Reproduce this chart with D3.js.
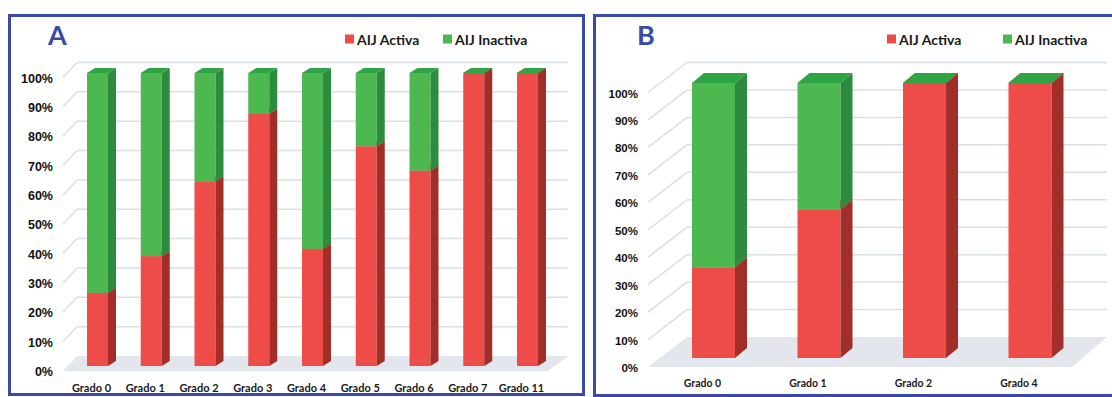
<!DOCTYPE html>
<html>
<head>
<meta charset="utf-8">
<script src="https://cdn.jsdelivr.net/npm/d3@7"></script>
<style>
  html, body { margin: 0; padding: 0; background: #ffffff; }
  svg { display: block; }
</style>
</head>
<body>
<svg id="chart" width="1112" height="397"></svg>
<script>
// Series and categories
const seriesNames = ["AIJ Activa", "AIJ Inactiva"];
const tickValues = [0, 10, 20, 30, 40, 50, 60, 70, 80, 90, 100];

const gradosA = ["Grado 0", "Grado 1", "Grado 2", "Grado 3", "Grado 4", "Grado 5", "Grado 6", "Grado 7", "Grado 11"];
const activaA = [25, 37.5, 63, 86, 40, 75, 66.7, 100, 100];
const inactivaA = [75, 62.5, 37, 14, 60, 25, 33.3, 0, 0];

const gradosB = ["Grado 0", "Grado 1", "Grado 2", "Grado 4"];
const activaB = [33, 54, 100, 100];
const inactivaB = [67, 46, 0, 0];

const colors = {
  red:   { front: "#ee4c49", side: "#a22e2a", top: "#d9413e" },
  green: { front: "#4db84f", side: "#2d8b3f", top: "#2fa445" }
};
const blue = "#3a4aa6";
const gridColor = "#d9dee8";
const floorColor = "#e3e6ec";

const svg = d3.select("#chart");

function panel(cfg) {
  const g = svg.append("g");

  // frame
  g.append("rect")
    .attr("x", cfg.frame[0]).attr("y", cfg.frame[1])
    .attr("width", cfg.frame[2]).attr("height", cfg.frame[3])
    .attr("fill", "none").attr("stroke", blue).attr("stroke-width", 3);

  // panel letter
  g.append("text")
    .attr("x", cfg.letterPos[0]).attr("y", cfg.letterPos[1])
    .attr("font-family", "Lato, 'Open Sans', sans-serif")
    .attr("font-weight", 700).attr("font-size", 27)
    .attr("fill", blue).text(cfg.letter);

  // scales: front plane of the walls, back wall, and the bars' own front plane
  const yFront = d3.scaleLinear().domain([0, 100]).range(cfg.frontRange);
  const yBack = d3.scaleLinear().domain([0, 100]).range(cfg.frontRange.map(v => v + cfg.wallDy));
  const yBar = d3.scaleLinear().domain([0, 100]).range(cfg.barRange);
  const x = d3.scaleBand().domain(cfg.categories)
    .range(cfg.bandRange)
    .paddingInner(cfg.padding).paddingOuter(cfg.padding / 2);

  const L = cfg.wallLeft, R = cfg.wallRight; // [frontX, backX]

  // floor
  g.append("polygon")
    .attr("points", [
      [L[0], yFront(0)], [R[0], yFront(0)], [R[1], yBack(0)], [L[1], yBack(0)]
    ].map(p => p.join(",")).join(" "))
    .attr("fill", floorColor);

  // back wall gridlines
  g.selectAll("line.grid").data(tickValues.filter(v => v > 0)).join("line")
    .attr("class", "grid")
    .attr("x1", L[1]).attr("x2", R[1])
    .attr("y1", d => yBack(d)).attr("y2", d => yBack(d))
    .attr("stroke", gridColor).attr("stroke-width", 1.5);

  // side wall gridlines
  g.selectAll("line.side").data(tickValues.filter(v => v > 0)).join("line")
    .attr("class", "side")
    .attr("x1", L[0]).attr("x2", L[1])
    .attr("y1", d => yFront(d)).attr("y2", d => yBack(d))
    .attr("stroke", gridColor).attr("stroke-width", 1.5);

  // y axis labels
  g.selectAll("text.ytick").data(tickValues).join("text")
    .attr("class", "ytick")
    .attr("x", cfg.yLabelX).attr("y", d => yFront(d) + cfg.yLabelDy)
    .attr("text-anchor", "end").attr("dominant-baseline", "central")
    .attr("font-family", "'Liberation Sans', Arial, sans-serif")
    .attr("font-weight", 700).attr("font-size", cfg.yFont)
    .attr("fill", "#111").text(d => d + "%");

  // stacked 3D columns
  const dx = cfg.barDepth[0], dy = cfg.barDepth[1];
  const w = x.bandwidth();
  cfg.categories.forEach((c, i) => {
    const x0 = x(c);
    const segs = [
      { lo: 0, hi: cfg.activa[i], col: colors.red },
      { lo: cfg.activa[i], hi: cfg.activa[i] + cfg.inactiva[i], col: colors.green }
    ];
    segs.forEach(s => {
      const yb = yBar(s.lo), yt = yBar(s.hi);
      const bg = g.append("g");
      bg.append("rect")
        .attr("x", x0).attr("y", yt).attr("width", w).attr("height", Math.max(0, yb - yt))
        .attr("fill", s.col.front);
      bg.append("polygon")
        .attr("points", [[x0 + w, yb], [x0 + w + dx, yb + dy], [x0 + w + dx, yt + dy], [x0 + w, yt]]
          .map(p => p.join(",")).join(" "))
        .attr("fill", s.col.side);
      bg.append("polygon")
        .attr("points", [[x0, yt], [x0 + w, yt], [x0 + w + dx, yt + dy], [x0 + dx, yt + dy]]
          .map(p => p.join(",")).join(" "))
        .attr("fill", s.col.top);
    });
  });

  // category labels
  g.selectAll("text.xtick").data(cfg.categories).join("text")
    .attr("class", "xtick")
    .attr("x", d => x(d) + w / 2 + cfg.xLabelDx).attr("y", cfg.xLabelY)
    .attr("text-anchor", "middle").attr("dominant-baseline", "central")
    .attr("font-family", "Lato, 'Open Sans', sans-serif")
    .attr("font-weight", 700).attr("font-size", cfg.xFont)
    .attr("fill", "#1a1a1a").text(d => d);

  // legend
  const lg = g.append("g");
  seriesNames.forEach((name, k) => {
    const lx = cfg.legendX[k];
    lg.append("rect")
      .attr("x", lx).attr("y", cfg.legendY - 4.5).attr("width", 9).attr("height", 9)
      .attr("fill", k === 0 ? colors.red.front : colors.green.front);
    lg.append("text")
      .attr("x", lx + 12).attr("y", cfg.legendY)
      .attr("dominant-baseline", "central")
      .attr("font-family", "Lato, 'Open Sans', sans-serif")
      .attr("font-weight", 700).attr("font-size", 14)
      .attr("fill", "#1a1a1a").text(name);
  });
}

const stepA = 53.75, barWA = 21;
panel({
  letter: "A", letterPos: [48, 45],
  frame: [9.5, 15.5, 574, 379],
  categories: gradosA, activa: activaA, inactiva: inactivaA,
  frontRange: [371, 77.5], wallDy: -15,
  wallLeft: [63, 77], wallRight: [548, 568],
  barRange: [366, 73],
  bandRange: [97.5 - stepA / 2, 97.5 - stepA / 2 + gradosA.length * stepA],
  padding: 1 - barWA / stepA,
  barDepth: [8, -5],
  yLabelX: 53, yLabelDy: 1, yFont: 12.5,
  xLabelDx: -6, xLabelY: 387, xFont: 11,
  legendX: [345, 443], legendY: 39
});

const stepB = 105.5, barWB = 43;
panel({
  letter: "B", letterPos: [637, 45],
  frame: [594.5, 15.5, 540, 380],
  categories: gradosB, activa: activaB, inactiva: inactivaB,
  frontRange: [367, 92.5], wallDy: -30,
  wallLeft: [648, 687], wallRight: [1072, 1107],
  barRange: [358, 83],
  bandRange: [713.5 - stepB / 2, 713.5 - stepB / 2 + gradosB.length * stepB],
  padding: 1 - barWB / stepB,
  barDepth: [12, -10],
  yLabelX: 638, yLabelDy: 1, yFont: 11.5,
  xLabelDx: -11, xLabelY: 383, xFont: 10.5,
  legendX: [887, 1003], legendY: 39
});
</script>
</body>
</html>
